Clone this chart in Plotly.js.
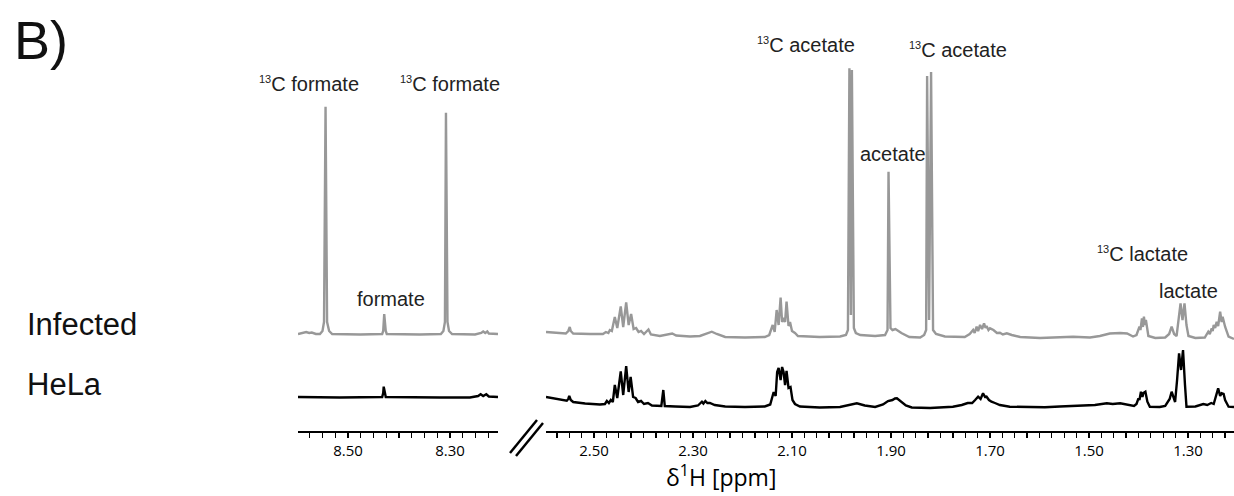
<!DOCTYPE html>
<html>
<head>
<meta charset="utf-8">
<script src="https://cdn.plot.ly/plotly-3.0.1.min.js"></script>
<style>html,body{margin:0;padding:0;background:#fff;}#chart{width:1234px;height:496px;}</style>
</head>
<body>
<div id="chart"></div>
<script>
// ---- Data: chemical shift (ppm) and intensity (a.u., relative to each baseline) ----
// Infected, 8.6-8.2 ppm window
const infLeftPpm = [8.598,8.588,8.582,8.576,8.571,8.563,8.555,8.550,8.547,8.544,8.541,8.537,8.531,8.476,8.433,8.431,8.429,8.426,8.424,8.359,8.318,8.313,8.310,8.308,8.305,8.302,8.296,8.251,8.239,8.235,8.231,8.227,8.224,8.206];
const infLeftInt = [0,1,2,1,1.5,0,0,3,12,227.3,12,3,0,-0.5,0,3,20,3,0,-0.5,0,3,12,221.3,12,3,0,-0.5,1,2.5,1,2.5,0.5,0];
// HeLa, 8.6-8.2 ppm window
const helaLeftPpm = [8.598,8.516,8.433,8.431,8.430,8.428,8.426,8.320,8.261,8.245,8.240,8.235,8.229,8.224,8.206];
const helaLeftInt = [0,-0.5,0,4,10.3,4,0,-0.5,-0.5,1,2.7,1,2.7,0.5,0];
// Infected, 2.6-1.2 ppm window
const infRightPpm = [2.597,2.569,2.557,2.552,2.549,2.547,2.542,2.508,2.482,2.476,2.471,2.468,2.464,2.458,2.453,2.446,2.441,2.435,2.430,2.425,2.420,2.415,2.410,2.405,2.399,2.390,2.385,2.367,2.351,2.342,2.334,2.306,2.286,2.274,2.262,2.252,2.235,2.195,2.155,2.146,2.139,2.135,2.131,2.127,2.123,2.120,2.117,2.114,2.111,2.107,2.104,2.100,2.094,2.088,2.044,2.003,1.991,1.987,1.984,1.981,1.979,1.975,1.971,1.962,1.932,1.912,1.907,1.905,1.901,1.897,1.891,1.885,1.879,1.863,1.841,1.833,1.829,1.827,1.823,1.819,1.815,1.809,1.791,1.751,1.741,1.734,1.731,1.727,1.724,1.720,1.716,1.712,1.709,1.707,1.703,1.700,1.693,1.686,1.680,1.674,1.666,1.656,1.639,1.599,1.559,1.532,1.498,1.478,1.458,1.437,1.423,1.411,1.404,1.398,1.396,1.393,1.391,1.389,1.387,1.385,1.380,1.366,1.346,1.338,1.333,1.328,1.323,1.319,1.315,1.311,1.307,1.303,1.299,1.285,1.266,1.259,1.256,1.252,1.250,1.248,1.245,1.242,1.239,1.235,1.232,1.230,1.227,1.225,1.218,1.207];
const infRightInt = [3,2,1.5,4,8,4,1.5,1,1,3,2,5,4,18,7,28.5,8,32.5,10,21,6,7,3,4,1,5.5,0.5,-1,1,1.5,-0.5,-1.5,-1,1.5,3.3,1,-2,-2.5,-2,0,10,3,25,10,37.5,13,17,13,33.5,9,13,4,2,-1,-2,-1.5,0,5,266.7,20,265,7,2,0,-1,0,5,163.3,7,5,6,4,2,-2,-2.5,0,5,259,15,263,5,1,-1.5,-2,1,5,2,8.3,4,10,6,11.7,7,9,5,6.7,5,2,2.3,0.5,1.7,0,-2,-3,-2.5,-1.7,-2.5,-1,1.5,2,1.5,-1.5,0,8.3,5,16.7,8,18.3,10,15,-1,-3,-2.5,1,8.3,1,-1,15,31.7,15,31.7,10,-1,-3,-2.5,3.3,1,6.7,4,10,7,13.3,9,23.3,13,18.3,11,8.3,-1.7,-4];
// HeLa, 2.6-1.2 ppm window
const helaRightPpm = [2.597,2.577,2.555,2.552,2.550,2.547,2.542,2.518,2.488,2.478,2.474,2.470,2.466,2.462,2.458,2.453,2.446,2.441,2.435,2.430,2.426,2.421,2.416,2.411,2.405,2.399,2.391,2.383,2.364,2.360,2.357,2.336,2.306,2.290,2.282,2.279,2.275,2.271,2.266,2.256,2.235,2.195,2.155,2.144,2.141,2.137,2.133,2.130,2.127,2.123,2.120,2.117,2.114,2.111,2.107,2.103,2.099,2.094,2.084,2.044,2.003,1.987,1.969,1.953,1.932,1.916,1.906,1.897,1.892,1.888,1.884,1.878,1.870,1.858,1.821,1.775,1.757,1.745,1.736,1.730,1.724,1.719,1.714,1.710,1.707,1.702,1.697,1.690,1.680,1.660,1.625,1.589,1.559,1.518,1.488,1.464,1.452,1.437,1.421,1.409,1.404,1.400,1.398,1.395,1.392,1.390,1.386,1.382,1.377,1.357,1.346,1.337,1.333,1.330,1.326,1.322,1.318,1.314,1.310,1.306,1.303,1.285,1.269,1.261,1.253,1.248,1.244,1.239,1.235,1.232,1.228,1.225,1.218,1.207];
const helaRightInt = [10,8,6.3,8,11,7,5,3.5,2.5,3,6,4,7,5,22,9,35.5,12,41,15,30,10,9,5,6,3,4,1.5,1,17,1,0.5,0,1.5,5.3,3.5,6,4,4,2,0.5,0,0.5,2.5,7,15,11,35,39,27,40,35,22,36,19,20,7,3,0.5,-0.5,0,1.5,3.7,1.5,0,2.5,6,7,8.5,8.7,7,5,1.5,-0.5,-1,0.3,2,4,4,7,10.3,8,13.7,10,10.3,7,5.3,4,2,0.3,-0.3,-0.3,0.5,1,2,3.7,3,3.7,2,1,3,8.7,7,15.3,10,14,15.3,5.3,0.3,0,1,8,15.3,11,5,27,53.7,37,57,22,0.3,0.5,3,2,4,3,9,18.7,11,13.7,13,7,0.3,0];

// Peak labels
const SUP13 = '<sup><span style="font-size:11px">13</span></sup>';
const labelText = [SUP13+'C formate',SUP13+'C formate','formate',SUP13+'C acetate',SUP13+'C acetate','acetate',SUP13+'C lactate','lactate'];
const labelPpm  = [8.576, 8.300, 8.416, 2.072, 1.765, 1.896, 1.391, 1.298];
const labelY    = [347, 347, 132, 386, 381, 277, 177, 140];
const labelAxis = ['x','x','x','x2','x2','x2','x2','x2'];

const sampleNames = ['Infected','HeLa'];
const tickLabelsEvery = 0.2;

// ---- Layout helpers ----
const W = 1234, H = 496;
const px = v => v / W;
const py = v => (H - v) / H;
const offInfL = 97, offHelaL = 34, offInfR = 96, offHelaR = 24;
const add = (arr, o) => arr.map(v => v + o);
const GRAY = 'rgb(152,152,152)';
const SANS = 'Liberation Sans';

const traces = [
  {x: infLeftPpm, y: add(infLeftInt, offInfL), xaxis:'x', yaxis:'y', mode:'lines', line:{color:GRAY, width:2.4}, name:'Infected'},
  {x: helaLeftPpm, y: add(helaLeftInt, offHelaL), xaxis:'x', yaxis:'y', mode:'lines', line:{color:'#000', width:2.4}, name:'HeLa'},
  {x: infRightPpm, y: add(infRightInt, offInfR), xaxis:'x2', yaxis:'y', mode:'lines', line:{color:GRAY, width:2.4}, name:'Infected'},
  {x: helaRightPpm, y: add(helaRightInt, offHelaR), xaxis:'x2', yaxis:'y', mode:'lines', line:{color:'#000', width:2.4}, name:'HeLa'}
];

const axBase = {
  showgrid:false, zeroline:false, showline:true, linecolor:'#000', linewidth:1.5,
  ticks:'outside', ticklen:5, tickwidth:1.3, tickcolor:'#000',
  tickfont:{family:'Open Sans', size:15, color:'#000'},
  tickformat:'.2f', tick0:0.1, dtick:tickLabelsEvery, anchor:'y', fixedrange:true,
  minor:{dtick:0.025, tick0:0.1, ticks:'outside', ticklen:5, tickwidth:1.3, tickcolor:'#000', showgrid:false}
};

const annotations = labelText.map((t,i) => ({
  text:t, x:labelPpm[i], y:labelY[i], xref:labelAxis[i], yref:'y',
  showarrow:false, xanchor:'center', yanchor:'middle',
  font:{family:SANS, size:20, color:'#222'}
}));
annotations.push(
  {text:'B)', x:px(12), y:py(40), xref:'paper', yref:'paper', xanchor:'left', yanchor:'middle', showarrow:false,
   font:{family:SANS, size:54, color:'#111'}},
  {text:sampleNames[0], x:px(25), y:py(324), xref:'paper', yref:'paper', xanchor:'left', yanchor:'middle', showarrow:false,
   font:{family:SANS, size:31, color:'#111'}},
  {text:sampleNames[1], x:px(25), y:py(384), xref:'paper', yref:'paper', xanchor:'left', yanchor:'middle', showarrow:false,
   font:{family:SANS, size:31, color:'#111'}},
  {text:'δ<sup>1</sup>H [ppm]', x:px(721), y:py(476), xref:'paper', yref:'paper', xanchor:'center', yanchor:'middle', showarrow:false,
   font:{family:'Open Sans', size:23, color:'#000'}}
);

const layout = {
  width:W, height:H, margin:{l:0,r:0,t:0,b:0}, paper_bgcolor:'#fff', plot_bgcolor:'rgba(0,0,0,0)',
  showlegend:false,
  xaxis: Object.assign({}, axBase, {domain:[px(298), px(498)], range:[8.598, 8.206]}),
  xaxis2: Object.assign({}, axBase, {domain:[px(546), 1], range:[2.597, 1.207]}),
  yaxis: {domain:[py(431), 1], range:[0, 431], visible:false, fixedrange:true},
  annotations: annotations,
  shapes: [
    {type:'line', xref:'paper', yref:'paper', x0:px(510), y0:py(453), x1:px(537), y1:py(420), line:{color:'#000', width:2.5}},
    {type:'line', xref:'paper', yref:'paper', x0:px(516), y0:py(456), x1:px(543), y1:py(423), line:{color:'#000', width:2.5}}
  ]
};

Plotly.newPlot('chart', traces, layout, {staticPlot:true, displayModeBar:false});
</script>
</body>
</html>
